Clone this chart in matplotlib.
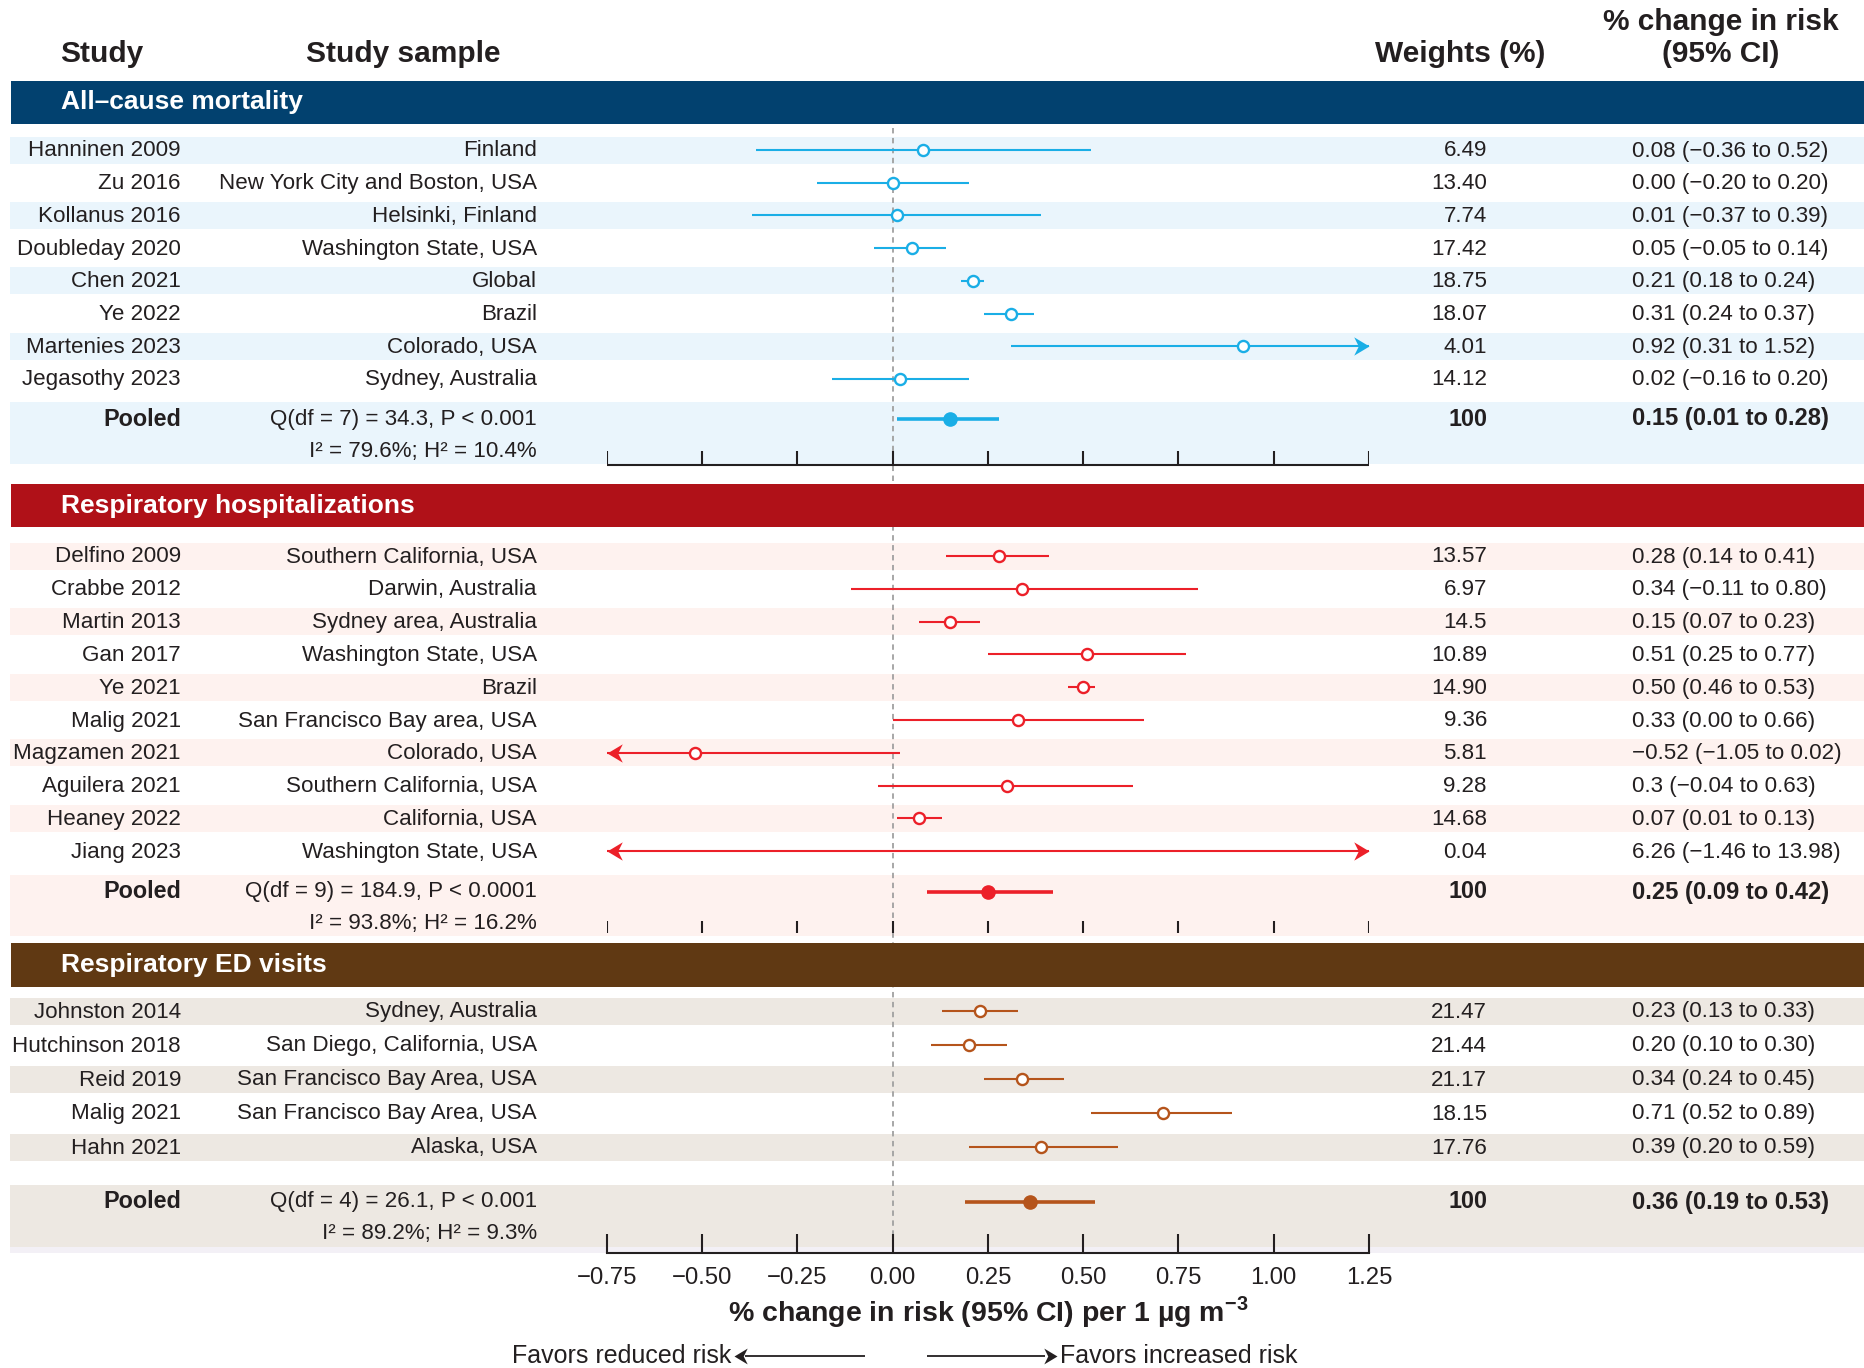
import matplotlib.pyplot as plt
from matplotlib.patches import Rectangle
from matplotlib.path import Path
from matplotlib.transforms import blended_transform_factory

plt.rcParams['font.family'] = ['Liberation Sans', 'DejaVu Sans']
plt.rcParams['mathtext.fontset'] = 'custom'
plt.rcParams['mathtext.rm'] = 'Liberation Sans'
plt.rcParams['mathtext.bf'] = 'Liberation Sans:bold'

# ---- All-cause mortality ----
mort_study = ['Hanninen 2009', 'Zu 2016', 'Kollanus 2016', 'Doubleday 2020',
              'Chen 2021', 'Ye 2022', 'Martenies 2023', 'Jegasothy 2023']
mort_sample = ['Finland', 'New York City and Boston, USA', 'Helsinki, Finland',
               'Washington State, USA', 'Global', 'Brazil', 'Colorado, USA',
               'Sydney, Australia']
mort_est = [0.08, 0.00, 0.01, 0.05, 0.21, 0.31, 0.92, 0.02]
mort_lo = [-0.36, -0.20, -0.37, -0.05, 0.18, 0.24, 0.31, -0.16]
mort_hi = [0.52, 0.20, 0.39, 0.14, 0.24, 0.37, 1.52, 0.20]
mort_weight = ['6.49', '13.40', '7.74', '17.42', '18.75', '18.07', '4.01', '14.12']
mort_ci = ['0.08 (\u22120.36 to 0.52)', '0.00 (\u22120.20 to 0.20)',
           '0.01 (\u22120.37 to 0.39)', '0.05 (\u22120.05 to 0.14)',
           '0.21 (0.18 to 0.24)', '0.31 (0.24 to 0.37)',
           '0.92 (0.31 to 1.52)', '0.02 (\u22120.16 to 0.20)']
mort_pooled = [0.15, 0.01, 0.28]
mort_pooled_ci = '0.15 (0.01 to 0.28)'
mort_stats = ['Q(df = 7) = 34.3, P < 0.001', 'I\u00b2 = 79.6%; H\u00b2 = 10.4%']

# ---- Respiratory hospitalizations ----
hosp_study = ['Delfino 2009', 'Crabbe 2012', 'Martin 2013', 'Gan 2017', 'Ye 2021',
              'Malig 2021', 'Magzamen 2021', 'Aguilera 2021', 'Heaney 2022', 'Jiang 2023']
hosp_sample = ['Southern California, USA', 'Darwin, Australia', 'Sydney area, Australia',
               'Washington State, USA', 'Brazil', 'San Francisco Bay area, USA',
               'Colorado, USA', 'Southern California, USA', 'California, USA',
               'Washington State, USA']
hosp_est = [0.28, 0.34, 0.15, 0.51, 0.50, 0.33, -0.52, 0.30, 0.07, 6.26]
hosp_lo = [0.14, -0.11, 0.07, 0.25, 0.46, 0.00, -1.05, -0.04, 0.01, -1.46]
hosp_hi = [0.41, 0.80, 0.23, 0.77, 0.53, 0.66, 0.02, 0.63, 0.13, 13.98]
hosp_weight = ['13.57', '6.97', '14.5', '10.89', '14.90', '9.36', '5.81', '9.28',
               '14.68', '0.04']
hosp_ci = ['0.28 (0.14 to 0.41)', '0.34 (\u22120.11 to 0.80)', '0.15 (0.07 to 0.23)',
           '0.51 (0.25 to 0.77)', '0.50 (0.46 to 0.53)', '0.33 (0.00 to 0.66)',
           '\u22120.52 (\u22121.05 to 0.02)', '0.3 (\u22120.04 to 0.63)',
           '0.07 (0.01 to 0.13)', '6.26 (\u22121.46 to 13.98)']
hosp_pooled = [0.25, 0.09, 0.42]
hosp_pooled_ci = '0.25 (0.09 to 0.42)'
hosp_stats = ['Q(df = 9) = 184.9, P < 0.0001', 'I\u00b2 = 93.8%; H\u00b2 = 16.2%']

# ---- Respiratory ED visits ----
ed_study = ['Johnston 2014', 'Hutchinson 2018', 'Reid 2019', 'Malig 2021', 'Hahn 2021']
ed_sample = ['Sydney, Australia', 'San Diego, California, USA',
             'San Francisco Bay Area, USA', 'San Francisco Bay Area, USA', 'Alaska, USA']
ed_est = [0.23, 0.20, 0.34, 0.71, 0.39]
ed_lo = [0.13, 0.10, 0.24, 0.52, 0.20]
ed_hi = [0.33, 0.30, 0.45, 0.89, 0.59]
ed_weight = ['21.47', '21.44', '21.17', '18.15', '17.76']
ed_ci = ['0.23 (0.13 to 0.33)', '0.20 (0.10 to 0.30)', '0.34 (0.24 to 0.45)',
         '0.71 (0.52 to 0.89)', '0.39 (0.20 to 0.59)']
ed_pooled = [0.36, 0.19, 0.53]
ed_pooled_ci = '0.36 (0.19 to 0.53)'
ed_stats = ['Q(df = 4) = 26.1, P < 0.001', 'I\u00b2 = 89.2%; H\u00b2 = 9.3%']

xticks = [-0.75, -0.50, -0.25, 0.00, 0.25, 0.50, 0.75, 1.00, 1.25]

# layout (pixels, measured from the top of the figure)
W, H = 1865, 1368
X_LO, X_HI = -0.75, 1.25
AX_LEFT, AX_RIGHT, AX_BOTTOM = 607, 1369, 1253
TEXT = '#231f20'
FS = 16.1

# barbed arrowheads, tip at the origin
HEAD_R = Path([(0, 0), (-1, 0.6), (-0.7, 0), (-1, -0.6), (0, 0)],
              [Path.MOVETO, Path.LINETO, Path.LINETO, Path.LINETO, Path.CLOSEPOLY])
HEAD_L = Path([(0, 0), (1, 0.6), (0.7, 0), (1, -0.6), (0, 0)],
              [Path.MOVETO, Path.LINETO, Path.LINETO, Path.LINETO, Path.CLOSEPOLY])

fig = plt.figure(figsize=(W / 100, H / 100), dpi=100)
ax = fig.add_axes([AX_LEFT / W, 1 - AX_BOTTOM / H, (AX_RIGHT - AX_LEFT) / W, AX_BOTTOM / H])
ax.set_xlim(X_LO, X_HI)
ax.set_ylim(AX_BOTTOM, 0)
ax.patch.set_alpha(0)
for side in ['top', 'left', 'right']:
    ax.spines[side].set_visible(False)
ax.spines['bottom'].set_linewidth(1.5)
ax.spines['bottom'].set_color(TEXT)
ax.set_yticks([])
ax.set_xticks(xticks)
ax.set_xticklabels([f'{t:.2f}'.replace('-', '\u2212') for t in xticks])
ax.tick_params(axis='x', direction='in', length=13.5, width=1.5, pad=10,
               labelsize=17.2, colors=TEXT)
ax.set_xlabel('% change in risk (95% CI) per 1 \u00b5g m$^{\\mathbf{-3}}$',
              fontsize=20.5, fontweight='bold', color=TEXT, labelpad=4)

tr = blended_transform_factory(fig.transFigure, ax.transData)


def fx(px):
    return px / W


def band(y0, y1, color, x0=10):
    ax.add_patch(Rectangle((fx(x0), y0), 1 - fx(x0), y1 - y0, transform=tr,
                           facecolor=color, edgecolor='none', clip_on=False, zorder=0))


def put(px, y, s, ha, bold=False, size=FS, color=TEXT):
    ax.text(fx(px), y, s, transform=tr, ha=ha, va='center', fontsize=size,
            fontweight='bold' if bold else 'normal', color=color, zorder=6)


def section(title, bar, rows, pool_y, study, sample, est, lo, hi, weight, ci,
            pooled, pooled_ci, stats, color, bar_color, band_color):
    # category header bar
    ax.add_patch(Rectangle((fx(11), bar[0]), 1 - fx(11), bar[1] - bar[0], transform=tr,
                           facecolor=bar_color, edgecolor='none', clip_on=False, zorder=3))
    put(61, (bar[0] + bar[1]) / 2, title, 'left', bold=True, size=19, color='white')

    for i, y in enumerate(rows):
        if i % 2 == 0:
            band(y - 13.5, y + 13.5, band_color)
        put(181, y + 1, study[i], 'right')
        put(537, y + 1, sample[i], 'right')
        put(1487, y + 1, weight[i], 'right')
        put(1632, y + 1, ci[i], 'left')

        a, b = max(lo[i], X_LO), min(hi[i], X_HI)
        ax.hlines(y, a, b, colors=color, lw=1.5, zorder=4)
        if lo[i] < X_LO:
            ax.plot(X_LO, y, marker=HEAD_L, ms=22, color=color, mew=0, zorder=5)
        if hi[i] > X_HI:
            ax.plot(X_HI, y, marker=HEAD_R, ms=22, color=color, mew=0, zorder=5)
        if X_LO <= est[i] <= X_HI:
            ax.plot(est[i], y, 'o', ms=8, mfc='white', mec=color, mew=1.7, zorder=5)

    # pooled estimate
    band(pool_y[0] - 17, pool_y[1] + 13, band_color)
    put(181, pool_y[0], 'Pooled', 'right', bold=True, size=16.8)
    put(537, pool_y[0], stats[0], 'right')
    put(537, pool_y[1], stats[1], 'right')
    put(1487, pool_y[0], '100', 'right', bold=True, size=16.8)
    put(1632, pool_y[0], pooled_ci, 'left', bold=True, size=17.1)
    ax.hlines(pool_y[0], pooled[1], pooled[2], colors=color, lw=2.6, zorder=4)
    ax.plot(pooled[0], pool_y[0], 'o', ms=9.5, color=color, zorder=5)


rows1 = [150 + 32.7 * i for i in range(len(mort_study))]
rows2 = [556 + 32.8 * i for i in range(len(hosp_study))]
rows3 = [1011 + 34.0 * i for i in range(len(ed_study))]

section('All\u2013cause mortality', (81, 124), rows1, (419, 451),
        mort_study, mort_sample, mort_est, mort_lo, mort_hi, mort_weight, mort_ci,
        mort_pooled, mort_pooled_ci, mort_stats,
        '#1aaee6', '#02416f', '#eaf5fc')
section('Respiratory hospitalizations', (484, 527), rows2, (892, 923),
        hosp_study, hosp_sample, hosp_est, hosp_lo, hosp_hi, hosp_weight, hosp_ci,
        hosp_pooled, hosp_pooled_ci, hosp_stats,
        '#ec2029', '#b01118', '#fef2ef')
section('Respiratory ED visits', (943, 987), rows3, (1202, 1234),
        ed_study, ed_sample, ed_est, ed_lo, ed_hi, ed_weight, ed_ci,
        ed_pooled, ed_pooled_ci, ed_stats,
        '#b5541b', '#603913', '#ede8e2')
band(1247, 1253, '#f3f0f6')

# reference line at zero
ax.vlines(0, 128, 1247, colors='#a0a0a0', linestyles=(0, (3, 2.5)), lw=1.3, zorder=1)

# axis pieces under the first two sections
ax.hlines(465, X_LO, X_HI, colors=TEXT, lw=1.5, zorder=4)
ax.vlines(xticks, 451, 465, colors=TEXT, lw=1.5, zorder=4)
ax.vlines(xticks, 921, 933, colors=TEXT, lw=1.5, zorder=4)

# column headers
put(60, 54, 'Study', 'left', bold=True, size=21.5)
put(306, 54, 'Study sample', 'left', bold=True, size=21.5)
put(1460, 54, 'Weights (%)', 'center', bold=True, size=21.5)
put(1721, 22, '% change in risk', 'center', bold=True, size=21.5)
put(1721, 54, '(95% CI)', 'center', bold=True, size=21.5)

# direction hints below the axis
put(731, 1356, 'Favors reduced risk', 'right', size=18)
put(1060, 1356, 'Favors increased risk', 'left', size=18)
hint = dict(colors=TEXT, lw=1.3, transform=tr, clip_on=False)
ax.hlines(1356, fx(745), fx(865), **hint)
ax.hlines(1356, fx(927), fx(1045), **hint)
ax.plot(fx(734), 1356, marker=HEAD_L, ms=19, color=TEXT, mew=0, transform=tr, clip_on=False)
ax.plot(fx(1057), 1356, marker=HEAD_R, ms=19, color=TEXT, mew=0, transform=tr, clip_on=False)

fig.savefig('out.png', dpi=100)
